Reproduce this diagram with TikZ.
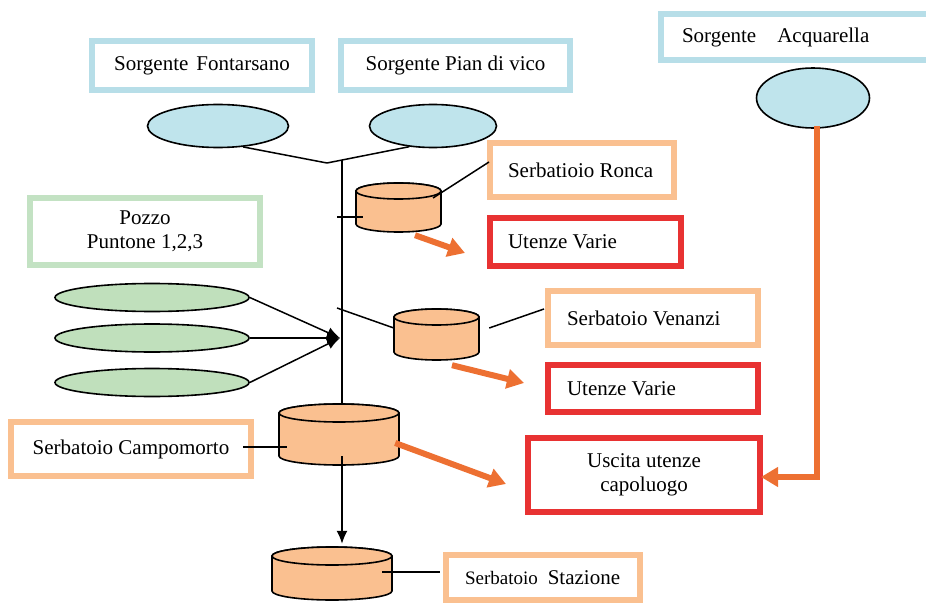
\documentclass[tikz,border=0pt]{standalone}
\usepackage{fontspec}
\setmainfont{Liberation Serif}
\usetikzlibrary{shapes.geometric,arrows.meta,calc}

\definecolor{blueB}{RGB}{183,222,232}
\definecolor{blueF}{RGB}{191,228,236}
\definecolor{greenB}{RGB}{195,226,195}
\definecolor{greenF}{RGB}{192,224,188}
\definecolor{orangeB}{RGB}{250,192,144}
\definecolor{tankF}{RGB}{250,192,144}
\definecolor{redB}{RGB}{232,50,50}
\definecolor{oarr}{RGB}{237,112,50}

\newcommand\fsz{\fontsize{21}{24}\selectfont}

% cylinder drawn over an invisible named node: name, half width, half height, ry
\newcommand\tank[4]{%
  \begin{scope}[shift={(#1.center)}]
    \draw[tankline] (-#2,-#3+#4) -- (-#2,#3-#4)
      arc[start angle=180,end angle=0,x radius=#2,y radius=#4]
      -- (#2,-#3+#4)
      arc[start angle=0,end angle=-180,x radius=#2,y radius=#4] -- cycle;
    \draw[tankline] (0,-#3+#4) ellipse[x radius=#2,y radius=#4];
  \end{scope}}

\tikzset{
  box/.style={draw, line width=6pt, fill=white, inner sep=0pt, font=\fsz},
  lbox/.style={box, align=flush left},
  cbox/.style={box, align=flush center},
  src/.style={ellipse, draw, line width=1.6pt, fill=blueF, inner sep=0pt},
  well/.style={ellipse, draw, line width=1.6pt, fill=greenF, inner sep=0pt,
    minimum width=194, minimum height=28},
  tankspot/.style={rectangle, inner sep=0pt},
  tankline/.style={line width=1.6pt, fill=tankF},
  pipe/.style={line width=1.5pt},
  parrow/.style={pipe, -{Latex[length=13pt,width=11pt]}},
  oarrow/.style={line width=6pt, oarr, -{Triangle[width=19pt,length=17pt]}},
}

\begin{document}
\begin{tikzpicture}[x=1pt,y=-1pt]
\useasboundingbox (0,0) rectangle (926,604);
\clip (0,0) rectangle (926,604);

% labels of springs, tanks and outlets
\node[cbox, draw=blueB, minimum width=220, minimum height=49] (bF) at (202,65.5)
  {Sorgente\hspace{8pt}Fontarsano};
\node[cbox, draw=blueB, minimum width=229, minimum height=49] (bP) at (455.5,65.5)
  {Sorgente Pian di vico};
\node[lbox, draw=blueB, text width=279, minimum height=46] (bA) at (800.5,37.5)
  {\hspace*{21pt}Sorgente\hspace{21pt}Acquarella};
\node[lbox, draw=orangeB, text width=184, minimum height=54] (bR) at (582,170)
  {\hspace*{18pt}Serbatioio Ronca};
\node[lbox, draw=redB, text width=191, minimum height=48] (uR) at (585.5,242)
  {\hspace*{18pt}Utenze Varie};
\node[lbox, draw=orangeB, text width=210, minimum height=54] (bV) at (653,318)
  {\hspace*{19pt}Serbatoio Venanzi};
\node[lbox, draw=redB, text width=210, minimum height=47] (uV) at (653,388.5)
  {\hspace*{19pt}Utenze Varie};
\node[cbox, draw=greenB, minimum width=230, minimum height=67] (bPz) at (145,231.5)
  {Pozzo\\Puntone 1,2,3};
\node[cbox, draw=orangeB, minimum width=240, minimum height=54] (bC) at (131,449)
  {Serbatoio Campomorto};
\node[cbox, draw=redB, minimum width=232, minimum height=74] (bU) at (644,475)
  {Uscita utenze\\capoluogo};
\node[lbox, draw=orangeB, text width=194, minimum height=45] (bS) at (543,577.5)
  {\hspace*{19pt}{\fontsize{19}{22}\selectfont Serbatoio}\hspace{10pt}Stazione};

% springs and wells
\node[src, minimum width=141, minimum height=43] (eF) at (218,126) {};
\node[src, minimum width=127, minimum height=43] (eP) at (433,126) {};
\node[src, minimum width=113, minimum height=60] (eA) at (813,98) {};
\node[well] (w1) at (152,297.5) {};
\node[well] (w2) at (152,338) {};
\node[well] (w3) at (152,382.5) {};

% tanks
\node[tankspot, minimum width=85, minimum height=49] (tR) at (398.5,207.5) {};
\node[tankspot, minimum width=85, minimum height=51] (tV) at (436.5,334.5) {};
\node[tankspot, minimum width=120, minimum height=61] (tC) at (339,434.5) {};
\node[tankspot, minimum width=120, minimum height=53] (tS) at (332,573.5) {};
\tank{tR}{42.5}{24.5}{8}
\tank{tV}{42.5}{25.5}{8}
\tank{tC}{60}{30.5}{9}
\tank{tS}{60}{26.5}{9}

% main pipe
\coordinate (J) at (327,163);
\coordinate (T0) at (342,160.3);
\coordinate (P) at (340,338);
\draw[pipe] (eF.-40) -- (J);
\draw[pipe] (eP.221) -- (J);
\draw[pipe] (T0) -- (T0 |- tC.north);
\coordinate (c1) at (342,456);
\draw[parrow, shorten >=3pt] (c1) -- (c1 |- tS.north);

% wells into the main pipe
\draw[parrow] (w1.east) -- (P);
\draw[parrow] (w2.east) -- (P);
\draw[parrow] (w3.east) -- (P);

% branches to tanks and their labels
\coordinate (rk) at (337,217);
\coordinate (rk2) at (363,217);
\draw[pipe] (rk) -- (rk2);
\draw[pipe] ($(tR.center)+(34.5,-9.5)$) -- ($(bR.west)+(2,-8)$);
\coordinate (vk) at (337,308);
\draw[pipe] (vk) -- ($(tV.west)+(0,-6.5)$);
\draw[pipe] ($(tV.east)+(10,-6.5)$) -- ($(bV.west)+(-1,-9)$);
\draw[pipe] ($(bC.east)+(-11,-2)$) -- ($(tC.west)+(8,12.5)$);
\draw[pipe] ($(tS.center)+(50,-1.5)$) -- ($(bS.west)+(-3,-5.5)$);

% supply arrows
\draw[oarrow] ($(tR.south)+(16.5,3)$) -- ($(uR.west)+(-22,11)$);
\draw[oarrow] ($(tV.south)+(15.5,5)$) -- ($(uV.west)+(-21,-5.5)$);
\draw[oarrow] ($(tC.east)+(-4,8.5)$) -- ($(bU.west)+(-19,9)$);
\coordinate (a4s) at ($(eA.south)+(4,-3)$);
\coordinate (a4e) at ($(bU.east)+(-2,2)$);
\draw[oarrow] (a4s) |- (a4e);
\end{tikzpicture}
\end{document}
